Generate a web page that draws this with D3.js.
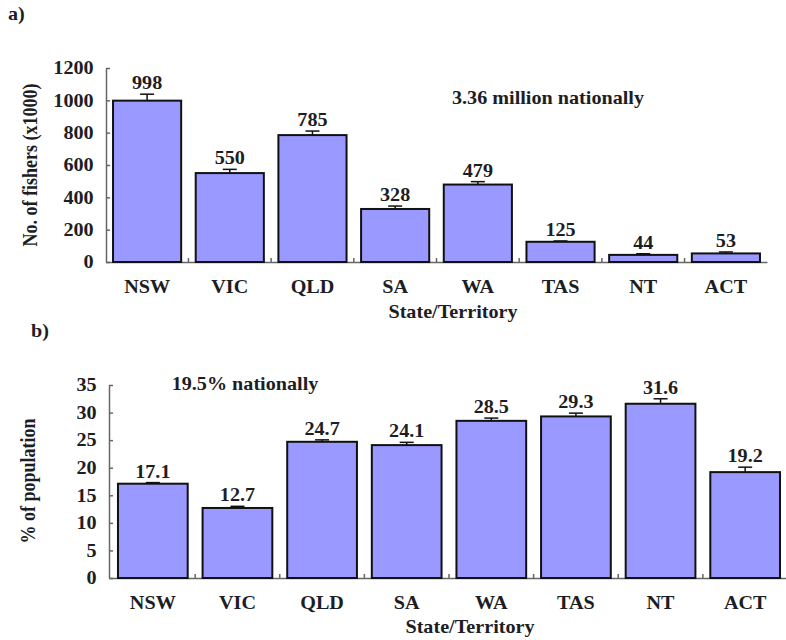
<!DOCTYPE html>
<html>
<head>
<meta charset="utf-8">
<script src="https://cdn.jsdelivr.net/npm/d3@7"></script>
<style>
  body { margin: 0; background: #fff; }
  text { font-family: "Liberation Serif", "Times New Roman", serif; font-weight: bold; fill: #1d1d24; }
</style>
</head>
<body>
<div id="root"></div>
<script>
var states = ["NSW", "VIC", "QLD", "SA", "WA", "TAS", "NT", "ACT"];
var fishers = [998, 550, 785, 328, 479, 125, 44, 53];
var fishersErr = [40, 23, 25, 18, 18, 5, 7, 9];
var fishersTicks = [0, 200, 400, 600, 800, 1000, 1200];
var percent = [17.1, 12.7, 24.7, 24.1, 28.5, 29.3, 31.6, 19.2];
var percentErr = [0.2, 0.3, 0.35, 0.5, 0.5, 0.6, 0.9, 0.9];
var percentTicks = [0, 5, 10, 15, 20, 25, 30, 35];

var w = 786, h = 640;
var sx = 1.12; // source picture is a little wider than tall
var svg = d3.select("#root").append("svg").attr("width", w).attr("height", h);

// text placed with a horizontal stretch like the reference
function label(x, y, str, anchor, rot) {
  return svg.append("text")
    .attr("transform", "translate(" + x + "," + y + ")" + (rot ? " rotate(" + rot + ")" : "") + " scale(" + (rot ? "1," + sx : sx + ",1") + ")")
    .attr("text-anchor", anchor || "middle")
    .style("font-size", "18px")
    .text(str);
}

function panel(cfg) {
  var x = d3.scaleBand().domain(states).range(cfg.xr).paddingInner(0.176).paddingOuter(cfg.po);
  var y = d3.scaleLinear().domain([0, cfg.max]).range(cfg.yr);
  var g = svg.append("g");

  // axes
  var xAxis = d3.axisBottom(x).tickSize(0).tickSizeOuter(0).tickPadding(18);
  var gx = g.append("g").attr("transform", "translate(0," + cfg.yr[0] + ")").call(xAxis);
  var yAxis = d3.axisLeft(y).tickValues(cfg.ticks).tickFormat(d3.format("d"))
    .tickSize(-4).tickSizeOuter(0).tickPadding(11);
  var gy = g.append("g").attr("transform", "translate(" + cfg.xr[0] + ",0)").call(yAxis);
  [gx, gy].forEach(function(a) {
    a.attr("font-size", null).attr("font-family", null);
    a.select(".domain").attr("stroke", "#666").attr("stroke-width", 1.5);
    a.selectAll(".tick line").attr("stroke", "#666").attr("stroke-width", 1.5);
    a.selectAll(".tick text").style("font-size", "18px").attr("fill", "#1d1d24")
      .attr("transform", "scale(" + sx + ",1)");
  });
  gx.selectAll(".tick text").attr("x", 0);

  // little ticks between categories
  var bounds = states.slice(0, -1).map(function(s) {
    return x(s) + x.bandwidth() + x.step() * x.paddingInner() / 2;
  });
  g.selectAll("line.sep").data(bounds).enter().append("line").attr("class", "sep")
    .attr("x1", function(d) { return d; }).attr("x2", function(d) { return d; })
    .attr("y1", cfg.yr[0]).attr("y2", cfg.yr[0] - 4)
    .attr("stroke", "#666").attr("stroke-width", 1.5);

  // bars
  g.selectAll("rect.bar").data(cfg.values).enter().append("rect").attr("class", "bar")
    .attr("x", function(d, i) { return x(states[i]); })
    .attr("y", function(d) { return y(d); })
    .attr("width", x.bandwidth())
    .attr("height", function(d) { return y(0) - y(d); })
    .attr("fill", "#9999ff").attr("stroke", "#111").attr("stroke-width", 2);

  // error bars (upper half only)
  cfg.values.forEach(function(v, i) {
    var cx = x(states[i]) + x.bandwidth() / 2;
    var top = y(v + cfg.err[i]);
    g.append("line").attr("x1", cx).attr("x2", cx).attr("y1", y(v)).attr("y2", top)
      .attr("stroke", "#111").attr("stroke-width", 1.5);
    g.append("line").attr("x1", cx - 7).attr("x2", cx + 7).attr("y1", top).attr("y2", top)
      .attr("stroke", "#111").attr("stroke-width", 1.5);
    label(cx, top - 5, cfg.fmt(v));
  });
  return x;
}

// a) number of fishers
panel({ xr: [106, 767], po: 0.085, yr: [262, 68], max: 1200, ticks: fishersTicks,
        values: fishers, err: fishersErr, fmt: d3.format("d") });
label(8, 20, "a)", "start");
label(548, 104, "3.36 million nationally");
label(453, 318, "State/Territory");
label(37, 165, "No. of fishers (x1000)", "middle", -90);

// b) participation rate
panel({ xr: [109, 789], po: 0.106, yr: [578, 385], max: 35, ticks: percentTicks,
        values: percent, err: percentErr, fmt: d3.format(".1f") });
label(31, 337, "b)", "start");
label(245, 390, "19.5% nationally");
label(470, 633, "State/Territory");
label(35, 481, "% of population", "middle", -90);
</script>
</body>
</html>
